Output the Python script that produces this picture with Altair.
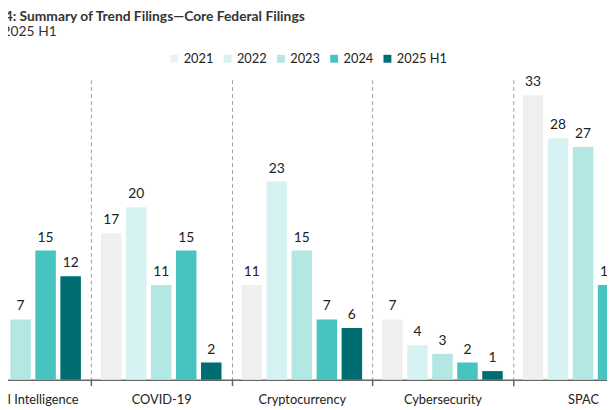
import altair as alt
import pandas as pd

categories = ["Artificial Intelligence", "COVID-19", "Cryptocurrency", "Cybersecurity", "SPAC"]
years = ["2021", "2022", "2023", "2024", "2025 H1"]
v2021 = [2, 17, 11, 7, 33]
v2022 = [6, 20, 23, 4, 28]
v2023 = [7, 11, 15, 3, 27]
v2024 = [15, 15, 7, 2, 11]
v2025 = [12, 2, 6, 1, 2]
colors = ["#efefef", "#d7f2f2", "#b3e7e4", "#47c4bf", "#006d72"]

series = [v2021, v2022, v2023, v2024, v2025]
rows = []
for y, vals in zip(years, series):
    for c, v in zip(categories, vals):
        rows.append({"Category": c, "Year": y, "Value": v})
df = pd.DataFrame(rows)

FONT = "Lato"

base = alt.Chart(df).encode(
    x=alt.X(
        "Category:N",
        sort=categories,
        scale=alt.Scale(range=[-58.5, 654], paddingInner=0, paddingOuter=0),
        axis=alt.Axis(
            title=None, labelAngle=0, tickBand="extent", grid=True,
            gridDash=[4, 3], gridColor="#a0a0a0", gridWidth=1,
            domainColor="#666666", domainWidth=1.5, tickColor="#666666",
            tickSize=6, tickWidth=1.5, labelFontSize=13, labelColor="#222222",
            labelFont=FONT, labelPadding=8,
        ),
    ),
    xOffset=alt.XOffset("Year:N", sort=years,
                        scale=alt.Scale(paddingInner=0.18, paddingOuter=0.4)),
    y=alt.Y("Value:Q", scale=alt.Scale(domain=[0, 34.8]), axis=None),
)

bars = base.mark_bar().encode(
    color=alt.Color(
        "Year:N", sort=years,
        scale=alt.Scale(domain=years, range=colors),
        legend=alt.Legend(
            title=None, orient="none", legendX=162, legendY=-28,
            direction="horizontal",
            symbolType="square", symbolSize=64, symbolStrokeWidth=0,
            labelFontSize=13, labelFont=FONT, labelColor="#222222",
            columnPadding=7, labelOffset=3,
        ),
    )
)

labels = base.mark_text(dy=-13, fontSize=14, font=FONT, color="#222222").encode(
    text="Value:Q"
)

chart = (
    alt.layer(bars, labels)
    .properties(
        width=607,
        height=304,
        autosize=alt.AutoSizeParams(type="none"),
        padding={"left": 0, "top": 70, "right": 0, "bottom": 28},
        title=alt.TitleParams(
            text="Figure 4: Summary of Trend Filings\u2014Core Federal Filings",
            subtitle="2021\u20132025 H1",
            anchor="start", frame="group", dx=-46,
            font=FONT, fontSize=14, fontWeight="bold", color="#333333",
            subtitleFont=FONT, subtitleFontSize=14, subtitleColor="#333333",
            subtitlePadding=2, offset=13,
        ),
    )
    .configure_view(stroke=None)
)

chart.save("out.html", embed_options={"renderer": "svg", "actions": False})
